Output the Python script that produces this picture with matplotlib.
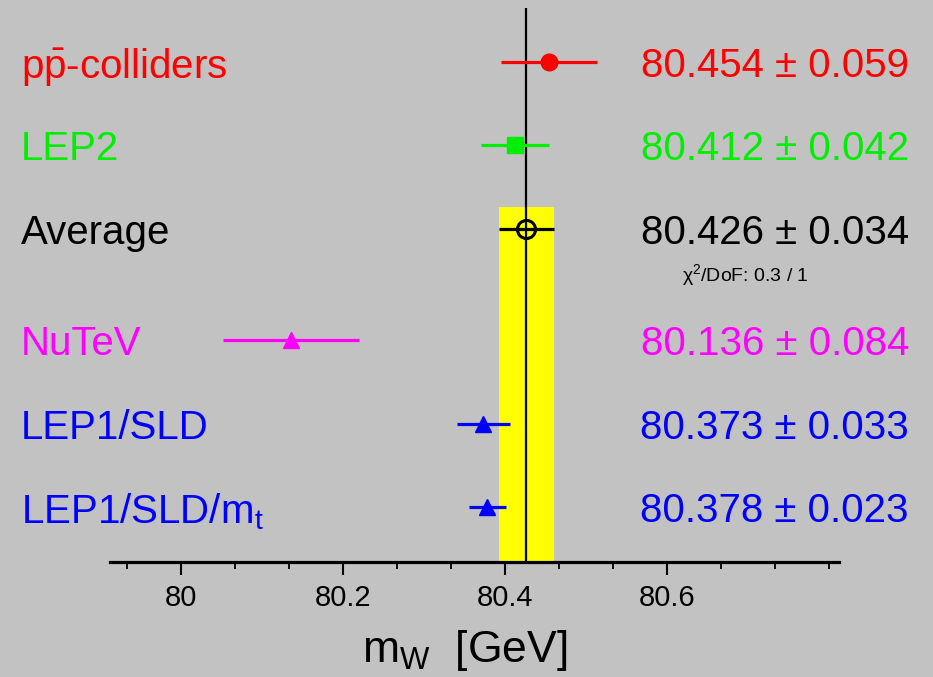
import matplotlib
matplotlib.use("Agg")
import matplotlib.pyplot as plt
import matplotlib.transforms as mtransforms
from matplotlib.ticker import MultipleLocator

plt.rcParams["font.family"] = ["Liberation Sans", "DejaVu Sans"]
plt.rcParams["mathtext.fontset"] = "custom"
plt.rcParams["mathtext.rm"] = "Liberation Sans"
plt.rcParams["mathtext.it"] = "Liberation Sans:italic"
plt.rcParams["mathtext.bf"] = "Liberation Sans:bold"

# measurements of the W mass
labels = [r"p$\mathrm{\bar{p}}$-colliders", "LEP2", "Average", "NuTeV", "LEP1/SLD", r"LEP1/SLD/m$_\mathrm{t}$"]
values = [80.454, 80.412, 80.426, 80.136, 80.373, 80.378]
errors = [0.059, 0.042, 0.034, 0.084, 0.033, 0.023]
colors = ["#ff0000", "#00ee00", "#000000", "#ff00ff", "#0000ff", "#0000ff"]
markers = ["o", "s", "o", "^", "^", "^"]
chi2_text = r"$\mathrm{\chi}^2$/DoF: 0.3 / 1"
avg_index = 2

# row positions: extra gap below the average row for the chi2 line
rows = [i + (0.34 if i > avg_index else 0.0) for i in range(len(labels))]

fig = plt.figure(figsize=(9.33, 6.77), dpi=100)
fig.patch.set_facecolor("#c2c2c2")
ax = fig.add_axes([110 / 933, 1 - 562 / 677, (839 - 110) / 933, (562 - 8) / 677])
ax.set_facecolor("none")
ax.set_xlim(79.912, 80.812)
ax.set_ylim(6.0, -0.65)

avg = values[avg_index]
avg_err = errors[avg_index]
ax.fill_between([avg - avg_err, avg + avg_err], rows[avg_index] - 0.26, 6.0,
                color="#ffff00", lw=0, zorder=1)
ax.axvline(avg, color="black", lw=1.6, zorder=2)

for i, (val, err, col, mk) in enumerate(zip(values, errors, colors, markers)):
    open_marker = i == avg_index
    ax.errorbar(val, rows[i], xerr=err, fmt=mk, color=col, ecolor=col,
                elinewidth=2.3, capsize=0,
                ms=13 if open_marker else (11 if mk != "o" else 12),
                mfc="none" if open_marker else col, mec=col,
                mew=2.2 if open_marker else 1, zorder=3)

left = mtransforms.blended_transform_factory(fig.transFigure, ax.transData)
for i, (lab, val, err, col) in enumerate(zip(labels, values, errors, colors)):
    ax.text(21 / 933, rows[i], lab, transform=left, color=col, fontsize=29,
            ha="left", va="center_baseline")
    ax.text(909 / 933, rows[i], f"{val:.3f} \u00b1 {err:.3f}", transform=left, color=col,
            fontsize=29, ha="right", va="center_baseline")

ax.text(745 / 933, rows[avg_index] + 0.55, chi2_text, transform=left, color="black",
        fontsize=14, ha="center", va="center")

for side in ["top", "left", "right"]:
    ax.spines[side].set_visible(False)
ax.spines["bottom"].set_linewidth(2.3)
ax.set_yticks([])
ax.xaxis.set_major_locator(MultipleLocator(0.2))
ax.xaxis.set_minor_locator(MultipleLocator(0.2 / 3))
ax.set_xticks([80.0, 80.2, 80.4, 80.6])
ax.set_xticklabels(["80", "80.2", "80.4", "80.6"])
ax.tick_params(axis="x", which="major", direction="out", length=9, width=1.5,
               labelsize=21, pad=7)
ax.tick_params(axis="x", which="minor", direction="out", length=5, width=1.3)

fig.text(465 / 933, 1 - 662 / 677, r"m$_\mathrm{W}$  [GeV]", fontsize=32,
         ha="center", va="baseline")

fig.savefig("out.png", dpi=100, facecolor=fig.get_facecolor())
